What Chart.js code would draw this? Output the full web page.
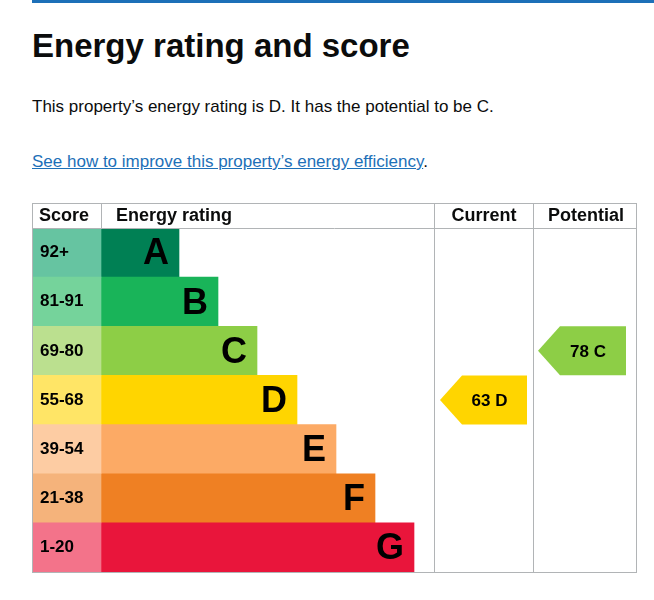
<!DOCTYPE html>
<html><head><meta charset="utf-8">
<script src="https://cdn.jsdelivr.net/npm/chart.js@4"></script>
<style>
body{margin:0;width:654px;height:600px;position:relative;background:#fff;font-family:"Liberation Sans",Arial,sans-serif;color:#0b0c0c;overflow:hidden}
#bar{position:absolute;left:32px;top:0;width:622px;height:3px;background:#1d70b8}
h1{position:absolute;left:32px;top:27px;margin:0;font-size:33px;font-weight:bold}
p{position:absolute;left:32px;margin:0;font-size:17px}
a{color:#1d70b8}
canvas{position:absolute;left:0;top:0}
</style></head><body>
<div id="bar"></div>
<h1>Energy rating and score</h1>
<p style="top:97px">This property’s energy rating is D. It has the potential to be C.</p>
<p style="top:152px"><a href="#">See how to improve this property’s energy efficiency</a>.</p>
<div style="position:absolute;left:0;top:0;width:654px;height:600px"><canvas id="c"></canvas></div>
<script>
const ratings=["A","B","C","D","E","F","G"];
const scoreBands=["92+","81-91","69-80","55-68","39-54","21-38","1-20"];
const barLengths=[78,117,156,196,235,274,313];
const ratingColors=["#008054","#19b459","#8dce46","#ffd500","#fcaa65","#ef8023","#e9153b"];
const bandColors=["#66c4a1","#75d39b","#bbe08f","#ffe566","#fdcca3","#f5b37b","#f3738a"];
const currentScore=63, currentRating="D";
const potentialScore=78, potentialRating="C";
const L=32,R=636,T=203,HB=228,B=572,CUR=434,POT=533;
const tablePlugin={id:'tbl',afterDraw(ch){
 const c=ch.ctx, y=ch.scales.y;
 c.save();
 c.font='bold 17px "Liberation Sans",Arial';c.fillStyle='#000';c.textBaseline='middle';
 scoreBands.forEach((s,i)=>{c.textAlign='left';c.fillText(s,40,y.getPixelForValue(i));});
 c.font='bold 36px "Liberation Sans",Arial';c.textAlign='right';
 ratings.forEach((r,i)=>{c.fillText(r,ch.scales.x.getPixelForValue(barLengths[i])-10,y.getPixelForValue(i)+2);});
 c.strokeStyle='#b1b4b6';c.lineWidth=1;
 c.strokeRect(L+.5,T+.5,R-L,B-T);
 [[L,HB,R,HB],[101,T,101,HB],[CUR,T,CUR,B],[POT,T,POT,B]].forEach(a=>{c.beginPath();c.moveTo(a[0]+.5,a[1]+.5);c.lineTo(a[2]+.5,a[3]+.5);c.stroke();});
 c.font='bold 18px "Liberation Sans",Arial';c.textAlign='left';c.fillStyle='#0b0c0c';
 c.fillText('Score',39,216);c.fillText('Energy rating',116,216);
 c.textAlign='center';c.fillText('Current',484,216);c.fillText('Potential',586,216);
 function arrow(x0,x1,idx,txt){
  const yc=y.getPixelForValue(idx),h=49;
  c.fillStyle=ratingColors[idx];c.beginPath();
  c.moveTo(x0,yc);c.lineTo(x0+22,yc-h/2);c.lineTo(x1,yc-h/2);c.lineTo(x1,yc+h/2);c.lineTo(x0+22,yc+h/2);c.closePath();c.fill();
  c.fillStyle='#000';c.font='bold 17px "Liberation Sans",Arial';c.textAlign='center';c.fillText(txt,(x0+x1)/2+6,yc+1);
 }
 arrow(440,527,ratings.indexOf(currentRating),currentScore+' '+currentRating);
 arrow(538,626,ratings.indexOf(potentialRating),potentialScore+' '+potentialRating);
 c.restore();
}};
new Chart(document.getElementById('c'),{type:'bar',
 data:{labels:ratings,datasets:[
  {data:barLengths.map(()=>[-69,0]),backgroundColor:bandColors,barPercentage:1,categoryPercentage:1,grouped:false},
  {data:barLengths.map(v=>[0,v]),backgroundColor:ratingColors,barPercentage:1,categoryPercentage:1,grouped:false}]},
 options:{indexAxis:'y',responsive:true,maintainAspectRatio:false,animation:false,
  layout:{padding:{left:L,right:654-CUR,top:HB,bottom:600-B}},
  plugins:{legend:{display:false},tooltip:{enabled:false}},
  scales:{x:{display:false,min:-69,max:CUR-101},y:{display:false}}},
 plugins:[tablePlugin]});
</script></body></html>
